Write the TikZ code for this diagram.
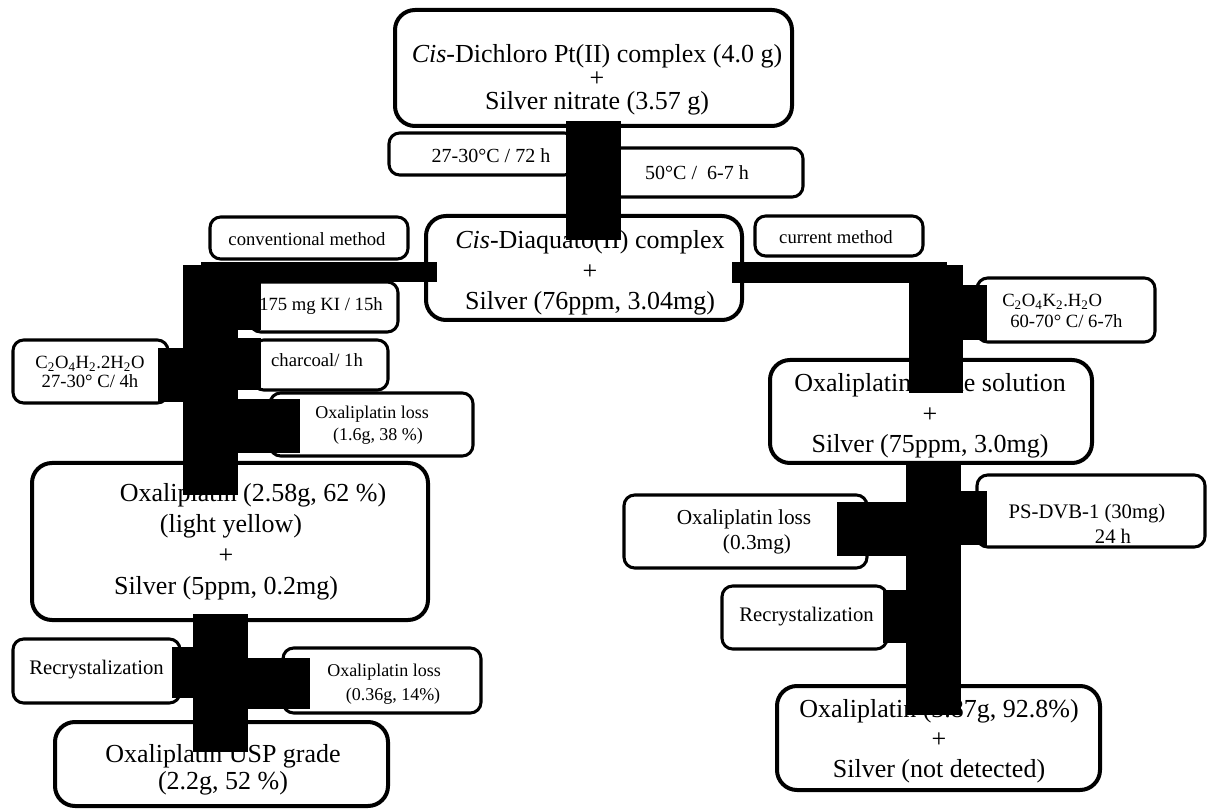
\documentclass[tikz,border=0pt]{standalone}
\usepackage{fontspec}
\setmainfont{Liberation Serif}
\newcommand{\mybox}[6]{%
  \pgfmathsetmacro\bw{(#5-#3)*0.75}%
  \pgfmathsetmacro\bh{(#6-#4)*0.75}%
  \node[#2, minimum width=\bw pt, minimum height=\bh pt] (#1) at ({(#3+#5)/2},{(#4+#6)/2}) {};}
\newcommand{\fs}[2]{\fontsize{#1}{#2}\selectfont}
\begin{document}
\begin{tikzpicture}[x=0.75pt,y=-0.75pt,
  bigbox/.style={draw, line width=3pt, rounded corners=15pt, inner sep=0pt},
  smallbox/.style={draw, line width=2.3pt, rounded corners=8pt, inner sep=0pt},
  txt/.style={inner sep=0pt, align=center},
  bar/.style={fill=black}]
\useasboundingbox (0,0) rectangle (1208,809);
% boxes
\mybox{btop}{bigbox}{395}{10}{792}{126}
\mybox{bta}{smallbox}{389}{133}{575}{175}
\mybox{btb}{smallbox}{590}{148}{803}{197}
\mybox{bconv}{smallbox}{210}{217}{408}{259}
\mybox{bdiaq}{bigbox}{426}{216}{742}{320}
\mybox{bcurr}{smallbox}{755}{216}{923}{256}
\mybox{bki}{smallbox}{250}{282}{398}{332}
\mybox{bktwo}{smallbox}{977}{278}{1155}{342}
\mybox{bhtwo}{smallbox}{13}{340}{168}{403}
\mybox{bchar}{smallbox}{253}{340}{388}{390}
\mybox{blossa}{smallbox}{270}{393}{473}{456}
\mybox{boxa}{bigbox}{32}{463}{428}{620}
\mybox{breca}{smallbox}{13}{639}{180}{703}
\mybox{blossb}{smallbox}{283}{648}{481}{713}
\mybox{busp}{bigbox}{55}{722}{388}{806}
\mybox{bcrude}{bigbox}{770}{360}{1092}{463}
\mybox{blossc}{smallbox}{624}{495}{867}{568}
\mybox{bps}{smallbox}{977}{475}{1205}{547}
\mybox{brecb}{smallbox}{722}{586}{887}{649}
\mybox{bfinal}{bigbox}{777}{686}{1100}{790}
% texts
\node[txt, font=\fs{19.5}{17.6}] (ttop) at (597,80) {\textit{Cis}-Dichloro Pt(II) complex (4.0 g)\\+\\Silver nitrate (3.57 g)};
\node[txt, font=\fs{15}{17}] (tta) at (491,156) {27-30°C / 72 h};
\node[txt, font=\fs{15}{17}] (ttb) at (697,173) {50°C /\ \ 6-7 h};
\node[txt, font=\fs{14}{16}] (tconv) at (307,239) {conventional method};
\node[txt, font=\fs{19.5}{22.9}] (tdiaq) at (590,273) {\textit{Cis}-Diaquato(II) complex\\+\\Silver (76ppm, 3.04mg)};
\node[txt, font=\fs{14}{16}] (tcurr) at (836,237) {current method};
\node[txt, font=\fs{14}{16}] (tki) at (321,306) {175 mg KI / 15h};
\node[inner sep=0pt, align=left, anchor=west, font=\fs{14}{16}] (tktwo) at (1002,311) {C\textsubscript{2}O\textsubscript{4}K\textsubscript{2}.H\textsubscript{2}O\\\hspace*{6pt}60-70° C/ 6-7h};
\node[txt, font=\fs{14}{13.8}] (thtwo) at (90,372) {C\textsubscript{2}O\textsubscript{4}H\textsubscript{2}.2H\textsubscript{2}O\\27-30° C/ 4h};
\node[txt, font=\fs{14}{16}] (tchar) at (317,360) {charcoal/ 1h};
\node[txt, font=\fs{13.5}{16.5}] (tlossa) at (372,425) {Oxaliplatin loss\\\hspace*{9pt}(1.6g, 38 \%)};
\node[txt, font=\fs{19.5}{23.25}] (toxa) at (226,542) {\hspace*{40.5pt}Oxaliplatin (2.58g, 62 \%)\\\hspace*{7.5pt}(light yellow)\\+\\Silver (5ppm, 0.2mg)};
\node[txt, font=\fs{15.5}{18}] (treca) at (96.5,670) {Recrystalization};
\node[txt, font=\fs{13.5}{18}] (tlossb) at (384,684.5) {Oxaliplatin loss\\\hspace*{13.5pt}(0.36g, 14\%)};
\node[txt, font=\fs{19.5}{20.25}] (tusp) at (223,770) {Oxaliplatin USP grade\\(2.2g, 52 \%)};
\node[txt, font=\fs{19.5}{22.9}] (tcrude) at (930,416) {Oxaliplatin crude solution\\+\\Silver (75ppm, 3.0mg)};
\node[txt, font=\fs{16}{19}] (tlossc) at (744,532) {Oxaliplatin loss\\\hspace*{19.5pt}(0.3mg)};
\node[txt, font=\fs{15.5}{19}] (tps) at (1087,524) {PS-DVB-1 (30mg)\\\hspace*{39pt}24 h};
\node[txt, font=\fs{15.5}{18}] (trecb) at (806.5,617) {Recrystalization};
\node[txt, font=\fs{19.5}{22.5}] (tfinal) at (939,741.5) {Oxaliplatin (3.87g, 92.8\%)\\+\\Silver (not detected)};
% black connector blocks
\fill[bar] (566,121) rectangle (621,240);
\fill[bar] (201,262) rectangle (437,282);
\fill[bar] (183,265) rectangle (238,495);
\fill[bar] (238,265) rectangle (261,330);
\fill[bar] (238,338) rectangle (261,390);
\fill[bar] (158,348) rectangle (183,402);
\fill[bar] (238,399) rectangle (300,453);
\fill[bar] (193,614) rectangle (248,752);
\fill[bar] (172,647) rectangle (193,698);
\fill[bar] (248,658) rectangle (310,709);
\fill[bar] (732,262) rectangle (947,283);
\fill[bar] (909,265) rectangle (963,393);
\fill[bar] (963,285) rectangle (987,340);
\fill[bar] (906,461) rectangle (961,715);
\fill[bar] (837,502) rectangle (906,556);
\fill[bar] (961,491) rectangle (987,545);
\fill[bar] (883,590) rectangle (906,643);
\end{tikzpicture}
\end{document}
